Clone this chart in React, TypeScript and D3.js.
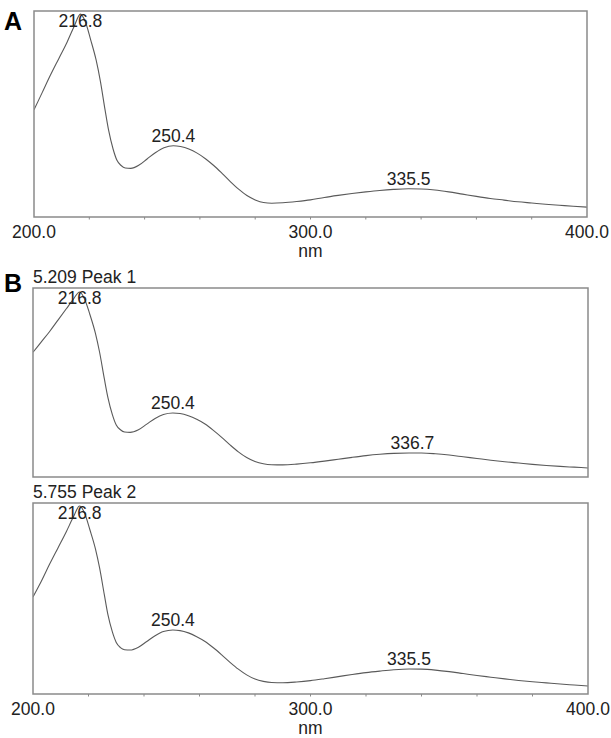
import React, { useEffect, useRef } from "react";
import * as d3 from "d3";

// wavelengths (nm) shared by all three spectra
const wavelengths = [200, 203, 206, 209, 212, 214.5, 216.8, 218.5, 220.5, 222.5, 224, 225.7, 227, 228.6, 230,
  231.5, 233, 235, 238, 241, 244, 247, 250.4, 253, 256, 259, 262, 265, 268, 271, 274, 277, 280, 283, 286,
  290, 295, 300, 305, 310, 315, 320, 325, 330, 335.5, 340, 345, 350, 355, 360, 365, 370, 375, 380, 385,
  390, 395, 400];

// relative absorbance, panel A
const absA = [0.52, 0.605, 0.69, 0.77, 0.85, 0.925, 0.985, 0.95, 0.86, 0.76, 0.66, 0.52, 0.42, 0.33, 0.275,
  0.25, 0.238, 0.236, 0.252, 0.283, 0.313, 0.336, 0.346, 0.342, 0.33, 0.31, 0.283, 0.25, 0.212, 0.172, 0.135,
  0.104, 0.083, 0.07, 0.067, 0.069, 0.075, 0.083, 0.095, 0.105, 0.114, 0.122, 0.129, 0.134, 0.137, 0.136,
  0.131, 0.122, 0.111, 0.1, 0.09, 0.082, 0.074, 0.068, 0.062, 0.057, 0.052, 0.048];

// panel B, peak 1 (5.209 min)
const absB1 = [0.66, 0.715, 0.77, 0.83, 0.89, 0.94, 0.979, 0.945, 0.86, 0.76, 0.66, 0.52, 0.42, 0.33, 0.275,
  0.25, 0.238, 0.236, 0.25, 0.28, 0.31, 0.331, 0.339, 0.336, 0.324, 0.305, 0.28, 0.247, 0.21, 0.17, 0.133,
  0.103, 0.082, 0.07, 0.065, 0.064, 0.068, 0.075, 0.084, 0.094, 0.104, 0.113, 0.12, 0.125, 0.127, 0.127,
  0.123, 0.116, 0.107, 0.098, 0.089, 0.081, 0.074, 0.067, 0.061, 0.056, 0.052, 0.048];

// panel B, peak 2 (5.755 min)
const absB2 = [0.508, 0.59, 0.68, 0.765, 0.85, 0.925, 0.984, 0.95, 0.86, 0.76, 0.66, 0.52, 0.415, 0.325, 0.27,
  0.243, 0.232, 0.23, 0.245, 0.275, 0.305, 0.327, 0.335, 0.332, 0.32, 0.3, 0.275, 0.242, 0.205, 0.166, 0.13,
  0.1, 0.078, 0.066, 0.06, 0.059, 0.063, 0.07, 0.08, 0.091, 0.102, 0.112, 0.12, 0.127, 0.131, 0.13,
  0.125, 0.117, 0.107, 0.097, 0.088, 0.079, 0.071, 0.064, 0.058, 0.052, 0.047, 0.042];

// peak annotations
const peaksA = [216.8, 250.4, 335.5];
const peaksB1 = [216.8, 250.4, 336.7];
const peaksB2 = [216.8, 250.4, 335.5];

const xTicks = [200, 300, 400];
const xMinorTicks = [220, 240, 260, 280, 300, 320, 340, 360, 380];

const FONT = "Liberation Sans, Arial, sans-serif";

export default function App() {
  const ref = useRef<SVGSVGElement>(null);

  useEffect(() => {
    const svg = d3.select(ref.current);
    svg.selectAll("*").remove();

    const panels = [
      { key: "a", letter: "A", letterY: 30, title: "", top: 11, bottom: 217, left: 34, right: 587, values: absA, peaks: peaksA, axis: true },
      { key: "b1", letter: "B", letterY: 292, title: "5.209 Peak 1", top: 288, bottom: 477, left: 33, right: 588, values: absB1, peaks: peaksB1, axis: false },
      { key: "b2", letter: "", letterY: 0, title: "5.755 Peak 2", top: 503, bottom: 694, left: 33, right: 588, values: absB2, peaks: peaksB2, axis: true },
    ];

    panels.forEach(p => {
      const x = d3.scaleLinear().domain([200, 400]).range([p.left, p.right]);
      const y = d3.scaleLinear().domain([0, 1]).range([p.bottom, p.top]);
      const g = svg.append("g");

      if (p.letter) {
        g.append("text")
          .attr("x", 4).attr("y", p.letterY)
          .attr("font-family", FONT).attr("font-weight", "bold").attr("font-size", 25)
          .attr("fill", "#000").text(p.letter);
      }
      if (p.title) {
        g.append("text")
          .attr("x", p.left).attr("y", p.top - 5)
          .attr("font-family", FONT).attr("font-size", 17.5)
          .attr("fill", "#222").text(p.title);
      }

      g.append("clipPath").attr("id", "clip-" + p.key)
        .append("rect")
        .attr("x", p.left).attr("y", p.top)
        .attr("width", p.right - p.left).attr("height", p.bottom - p.top);

      const pts = wavelengths.map((w, i) => [w, p.values[i]] as [number, number]);
      const line = d3.line<[number, number]>()
        .x(d => x(d[0])).y(d => y(d[1]))
        .curve(d3.curveMonotoneX);

      g.append("path")
        .datum(pts)
        .attr("clip-path", `url(#clip-${p.key})`)
        .attr("d", line)
        .attr("fill", "none")
        .attr("stroke", "#5a5a5a")
        .attr("stroke-width", 1.1);

      g.append("rect")
        .attr("x", p.left).attr("y", p.top)
        .attr("width", p.right - p.left).attr("height", p.bottom - p.top)
        .attr("fill", "none").attr("stroke", "#8a8a8a").attr("stroke-width", 1.5);

      // peak labels
      const interp = (nm: number) => {
        const i = d3.bisectLeft(wavelengths, nm);
        if (i <= 0) return p.values[0];
        const t = (nm - wavelengths[i - 1]) / (wavelengths[i] - wavelengths[i - 1]);
        return p.values[i - 1] + t * (p.values[i] - p.values[i - 1]);
      };
      g.selectAll(".peak")
        .data(p.peaks)
        .join("text")
        .attr("class", "peak")
        .attr("x", d => x(d))
        .attr("y", d => Math.max(p.top + 16, y(interp(d)) - 4))
        .attr("text-anchor", "middle")
        .attr("font-family", FONT).attr("font-size", 17.5)
        .attr("fill", "#222")
        .text(d => d.toFixed(1));

      if (p.axis) {
        g.selectAll(".minor")
          .data(xMinorTicks)
          .join("line")
          .attr("class", "minor")
          .attr("x1", d => x(d)).attr("x2", d => x(d))
          .attr("y1", p.bottom).attr("y2", p.bottom + 2.5)
          .attr("stroke", "#8a8a8a").attr("stroke-width", 1);

        g.selectAll(".tick")
          .data(xTicks)
          .join("text")
          .attr("class", "tick")
          .attr("x", d => x(d))
          .attr("y", p.bottom + 21)
          .attr("text-anchor", "middle")
          .attr("font-family", FONT).attr("font-size", 17.5)
          .attr("fill", "#222")
          .text(d => d3.format(".1f")(d));

        g.append("text")
          .attr("x", (p.left + p.right) / 2)
          .attr("y", p.bottom + 40)
          .attr("text-anchor", "middle")
          .attr("font-family", FONT).attr("font-size", 17.5)
          .attr("fill", "#222")
          .text("nm");
      }
    });
  }, []);

  return (
    <svg ref={ref} width={611} height={738}
      style={{ position: "absolute", left: 0, top: 0, background: "#fff" }} />
  );
}
